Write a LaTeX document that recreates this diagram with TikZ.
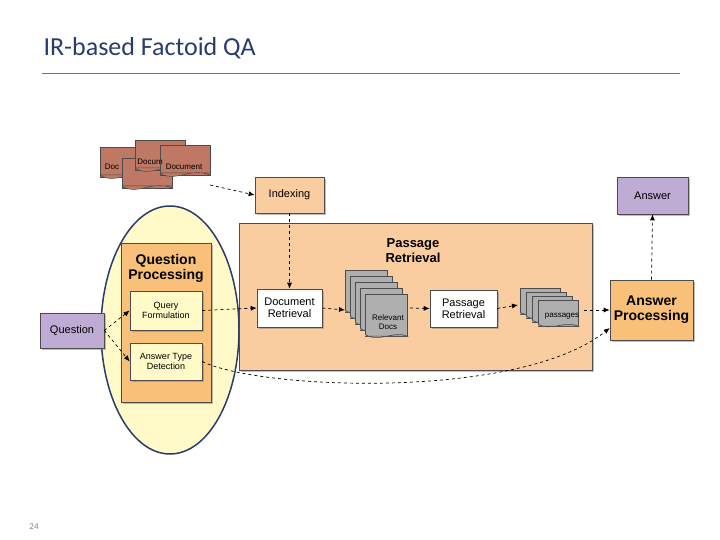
\documentclass[tikz,border=0pt]{standalone}
\usepackage{fontspec}
\setmainfont{Carlito}
\newfontfamily\arialf{Liberation Sans}
\usetikzlibrary{arrows.meta,shadows,shapes.geometric}
\definecolor{titc}{RGB}{40,60,110}
\definecolor{linec}{RGB}{80,120,170}
\definecolor{orng}{RGB}{248,192,120}
\definecolor{lorng}{RGB}{250,205,160}
\definecolor{ylw}{RGB}{255,250,200}
\definecolor{purp}{RGB}{190,172,212}
\definecolor{brwn}{RGB}{190,120,100}
\definecolor{gry}{RGB}{175,175,175}
\begin{document}
\begin{tikzpicture}[x=1pt,y=-1pt,
  box/.style={draw=black!70,line width=0.6pt,drop shadow={shadow xshift=2pt,shadow yshift=-2pt,opacity=0.5},font=\arialf\fontsize{11}{12}\selectfont,align=center,inner sep=1pt},
  bbox/.style={box,font=\arialf\bfseries\fontsize{14}{15}\selectfont},
  sbox/.style={box,font=\arialf\fontsize{9}{10}\selectfont},
  arr/.style={-{Latex[length=6pt,width=5pt]},dashed,line width=0.7pt},
  page/.style={draw=black!70,line width=0.5pt}]
\useasboundingbox (0,0) rectangle (720,540);
\node[anchor=west,text=titc,font=\fontsize{26}{30}\selectfont] (title) at (40,48) {IR-based Factoid QA};
\draw[linec,line width=1pt] (42,74) -- (680,74);
\node[text=gray,font=\fontsize{9}{10}\selectfont] (pn) at (34,527) {24};
% ellipse
\node[draw=titc,fill=ylw,line width=1.5pt,ellipse,minimum width=138pt,minimum height=248pt,inner sep=0] (ell) at (170,330) {};
% QP box
\node[bbox,fill=orng,minimum width=90pt,minimum height=159pt] (qp) at (166,322.5) {};
\node[font=\arialf\bfseries\fontsize{14}{15}\selectfont,align=center] (qpt) at (166,268) {Question\\Processing};
\node[sbox,fill=ylw,minimum width=72pt,minimum height=39pt] (qf) at (166,310.5) {Query\\Formulation};
\node[sbox,fill=ylw,minimum width=72pt,minimum height=37pt] (atd) at (166,361.5) {Answer Type\\Detection};
\node[box,fill=purp,minimum width=64pt,minimum height=35pt] (q) at (72,330.5) {Question};
% docs
\foreach \x/\y/\t in {100/147/Doc,122/158/D,135/140/Docum,160/145/Document}{
  \draw[page,fill=brwn] (\x,\y) rectangle ++(50,30) ;
  \draw[page,fill=brwn] (\x,\y+28) .. controls (\x+15,\y+38) and (\x+30,\y+22) .. (\x+50,\y+30) -- (\x+50,\y+28) -- (\x,\y+28);
}
\node[font=\arialf\fontsize{8}{9}\selectfont] (d1) at (112,167) {Doc};
\node[font=\arialf\fontsize{8}{9}\selectfont] (d3) at (150,162) {Docum};
\node[font=\arialf\fontsize{8}{9}\selectfont] (d4) at (184,167) {Document};
\coordinate (docs) at (210,185);
\node[box,fill=lorng,minimum width=69pt,minimum height=36pt] (idx) at (289.5,195) {Indexing};
% passage retrieval area
\node[draw=black!70,fill=lorng,line width=0.6pt,drop shadow={shadow xshift=2pt,shadow yshift=-2pt,opacity=0.5},minimum width=353pt,minimum height=147pt] (pr) at (415.5,296.5) {};
\node[font=\arialf\bfseries\fontsize{13}{15}\selectfont,align=center] (prt) at (413,251) {Passage\\Retrieval};
\node[box,fill=white,minimum width=65pt,minimum height=38pt] (dr) at (289.5,308) {Document\\Retrieval};
% relevant docs stack
\foreach \i in {0,...,4}{
  \draw[page,fill=gry] (345+\i*5,270+\i*6) rectangle ++(42,42);
  \draw[page,fill=gry] (345+\i*5,310+\i*6) .. controls (358+\i*5,320+\i*6) and (372+\i*5,306+\i*6) .. (387+\i*5,312+\i*6) -- (345+\i*5,312+\i*6);
}
\node[font=\arialf\fontsize{8}{9}\selectfont,align=center] (rd) at (388,322) {Relevant\\Docs};
\coordinate (rdl) at (345,310); \coordinate (rdr) at (410,308);
\node[box,fill=white,minimum width=67pt,minimum height=37pt] (pr2) at (463.5,308.5) {Passage\\Retrieval};
\foreach \i in {0,...,3}{
  \draw[page,fill=gry] (520+\i*6,288+\i*4) rectangle ++(40,26);
  \draw[page,fill=gry] (520+\i*6,312+\i*4) .. controls (533+\i*6,320+\i*4) and (545+\i*6,308+\i*4) .. (560+\i*6,314+\i*4) -- (520+\i*6,314+\i*4);
}
\node[font=\arialf\fontsize{8}{9}\selectfont] (ps) at (562,316) {passages};
\coordinate (psl) at (518,305); \coordinate (psr) at (584,310);
\node[bbox,fill=orng,minimum width=83pt,minimum height=60pt] (ap) at (651.5,310) {Answer\\Processing};
\node[box,fill=purp,minimum width=71pt,minimum height=37pt] (ans) at (652.5,195.5) {Answer};
% arrows
\draw[arr] (docs) -- (idx.west);
\draw[arr] (idx.south) -- (dr.north);
\draw[arr] (q.east) -- (qf.west);
\draw[arr] (q.east) -- (atd.west);
\draw[arr] (qf.east) -- (dr.west);
\draw[arr] (dr.east) -- (rdl);
\draw[arr] (rdr) -- (pr2.west);
\draw[arr] (pr2.east) -- (psl);
\draw[arr] (psr) -- (ap.west |- psr);
\draw[arr] (atd.east) .. controls (260,390) and (520,400) .. (ap.south west |- 0,328);
\draw[arr] (ap.north) -- (ans.south);
\end{tikzpicture}
\end{document}
